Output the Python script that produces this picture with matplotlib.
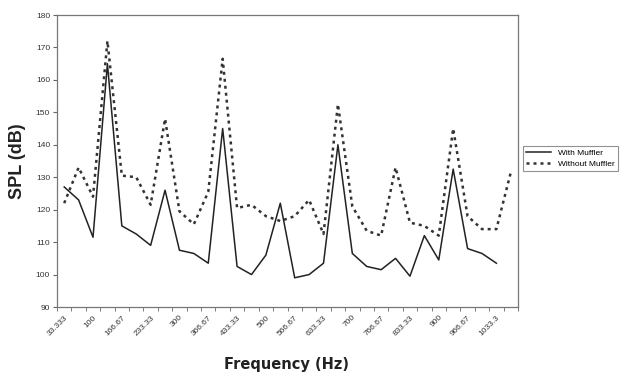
# coding=utf-8

import numpy as np
import matplotlib
matplotlib.use('Agg')
from matplotlib import pyplot as plt

# frequency categories (Hz)
freq_labels = ['33.333', '66.667', '100', '133.33', '166.67', '200', '233.33', '266.67',
               '300', '333.33', '366.67', '400', '433.33', '466.67', '500', '533.33',
               '566.67', '600', '633.33', '666.67', '700', '733.33', '766.67', '800',
               '833.33', '866.67', '900', '933.33', '966.67', '1000', '1033.3', '1066.7']

with_muffler = [127, 123, 111.5, 165, 115, 112.5, 109, 126, 107.5, 106.5, 103.5, 145,
                102.5, 100, 106, 122, 99, 100, 103.5, 140, 106.5, 102.5, 101.5, 105,
                99.5, 112, 104.5, 132.5, 108, 106.5, 103.5]

without_muffler = [122, 133, 124, 172, 130.5, 130, 121.5, 148, 119.5, 115.5, 125.5, 166.5,
                   120.5, 121.5, 118, 116.5, 118, 123, 112.5, 152.5, 121, 113.5, 112, 133,
                   116, 115, 112, 145, 118, 114, 114, 131.5]

y_ticks = [90, 100, 110, 120, 130, 140, 150, 160, 170, 180]


def main():
    plt.rcParams['font.family'] = ['Liberation Sans', 'DejaVu Sans']

    fig = plt.figure(figsize=(6.2, 3.73), dpi=100)
    ax = fig.add_axes([57 / 620., 1 - 307 / 373., (518 - 57) / 620., (307 - 15) / 373.])

    x_all = np.arange(len(freq_labels))
    ax.plot(x_all[:len(with_muffler)], with_muffler, color='#222222', lw=1.1,
            label='With Muffler')
    ax.plot(x_all, without_muffler, color='#333333', lw=1.8, linestyle=(0, (1.2, 1.6)),
            label='Without Muffler')

    ax.set_xlim(-0.5, len(freq_labels) - 0.5)
    ax.set_ylim(90, 180)
    ax.set_yticks(y_ticks)
    ax.set_yticklabels([str(v) for v in y_ticks], fontsize=6, color='#333333')

    # Excel style: tick marks between categories, a label on every other one
    ax.set_xticks(x_all[::2])
    ax.set_xticklabels(freq_labels[::2], rotation=45, ha='right', rotation_mode='anchor',
                       fontsize=6, color='#333333')
    ax.set_xticks(np.arange(-0.5, len(freq_labels), 1), minor=True)
    ax.tick_params(axis='x', which='major', length=0, pad=5)
    ax.tick_params(axis='x', which='minor', length=3, color='#666666', direction='out')
    ax.tick_params(axis='y', length=3, color='#666666', pad=2)

    for s in ax.spines.values():
        s.set_color('#777777')
        s.set_linewidth(0.9)

    ax.set_ylabel('SPL (dB)', fontsize=13, fontweight='bold', color='#222222', labelpad=7)
    fig.text(287 / 620., 1 - 364 / 373., 'Frequency (Hz)', fontsize=10.5, fontweight='bold',
             color='#222222', ha='center', va='center', family='DejaVu Sans')

    leg = ax.legend(loc='upper left', bbox_to_anchor=(523 / 620., 1 - 146 / 373.),
                    bbox_transform=fig.transFigure, fontsize=6, frameon=True,
                    fancybox=False, handlelength=3, borderpad=0.4, labelspacing=0.3,
                    borderaxespad=0)
    leg.get_frame().set_edgecolor('#777777')
    leg.get_frame().set_linewidth(0.8)

    fig.savefig('out.png', dpi=100)
    plt.close(fig)


if __name__ == '__main__':
    main()
